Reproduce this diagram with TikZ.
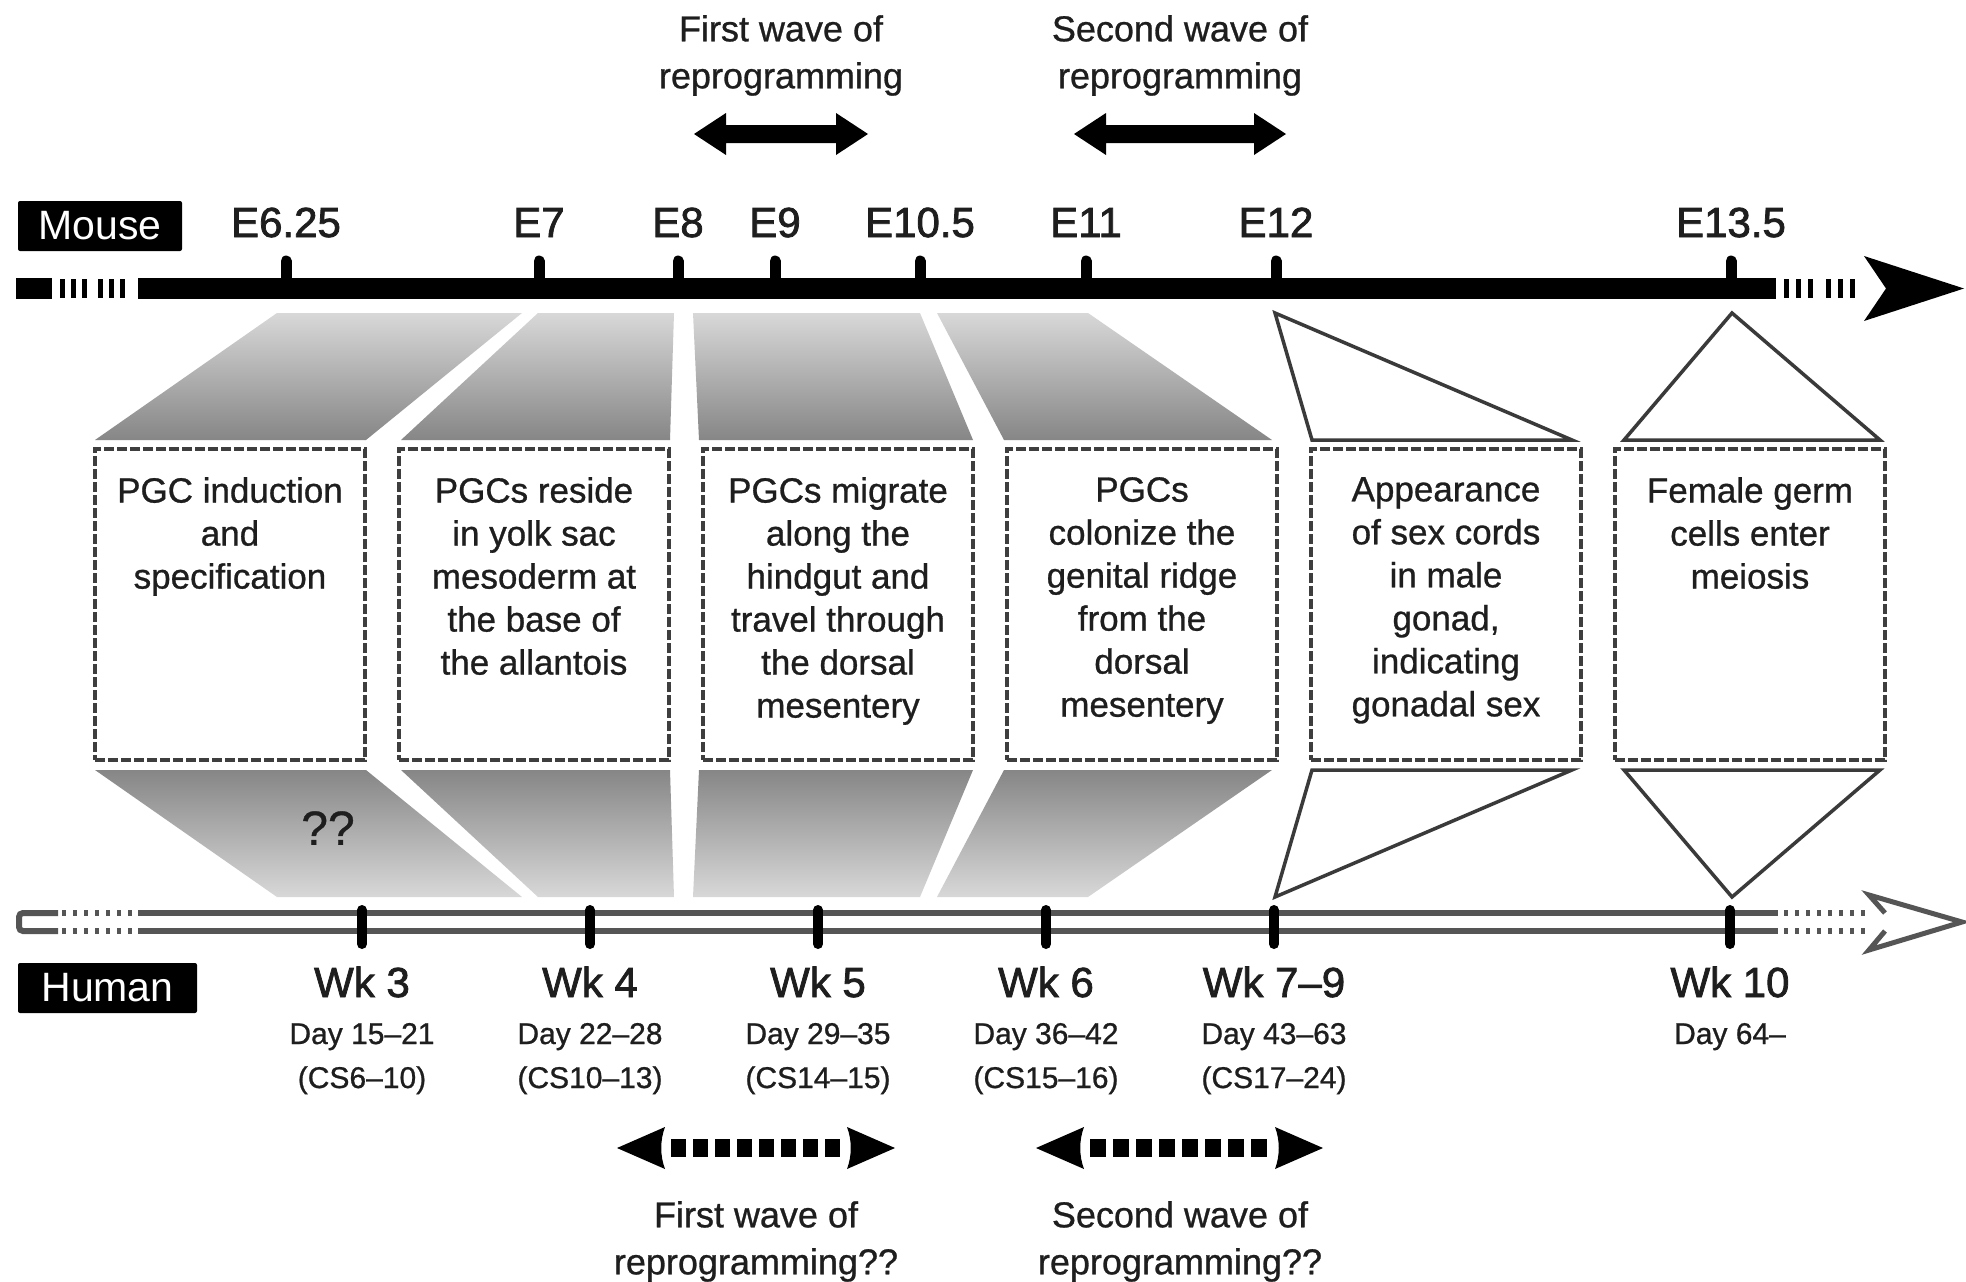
\documentclass[tikz,border=0pt]{standalone}
\usepackage{fontspec}
\setmainfont{Liberation Sans}
\newfontfamily\medfont{Liberation Sans}[FakeBold=0.8]
\newfontfamily\heavyfont{Liberation Sans}[FakeBold=1.8]
\definecolor{txt}{HTML}{1E1E1E}
\definecolor{axisgray}{HTML}{555555}
\definecolor{boxline}{HTML}{3E3E3E}
\definecolor{shlight}{HTML}{D8D8D8}
\definecolor{shdark}{HTML}{868686}
\definecolor{triline}{HTML}{3A3A3A}
\begin{document}
\begin{tikzpicture}[x=1pt,y=-1pt,
  elbl/.style={font=\heavyfont\fontsize{42}{50}\selectfont, text=txt, inner sep=0, anchor=base},
  wklbl/.style={font=\heavyfont\fontsize{42}{50}\selectfont, text=txt, inner sep=0, anchor=base},
  daylbl/.style={font=\medfont\fontsize{30}{36}\selectfont, text=txt, inner sep=0, anchor=base},
  wavelbl/.style={font=\medfont\fontsize{36}{47}\selectfont, text=txt, inner sep=0, align=center, anchor=north},
  boxtext/.style={font=\medfont\fontsize{35}{43}\selectfont, text=txt, inner sep=0, align=center, anchor=north},
  specbox/.style={fill=black, text=white, font=\fontsize{41}{48}\selectfont, inner sep=0, rounded corners=2pt},
  phasebox/.style={draw=boxline, line width=3.5pt, dash pattern=on 10pt off 3pt, fill=white, inner sep=0, minimum width=270pt, minimum height=311pt},
  tri/.style={draw=triline, line width=3.5pt, line join=miter, fill=white},
  topshade/.style={top color=shlight, bottom color=shdark},
  botshade/.style={top color=shdark, bottom color=shlight},
]
\useasboundingbox (0,0) rectangle (1966,1282);
\fill[white] (0,0) rectangle (1966,1282);

% ---- gray trapezoids (top) ----
\shade[topshade] (277,313) -- (522,313) -- (366,440) -- (95,440) -- cycle;
\shade[topshade] (538,313) -- (674,313) -- (670,440) -- (401,440) -- cycle;
\shade[topshade] (693,313) -- (920,313) -- (973,440) -- (699,440) -- cycle;
\shade[topshade] (937,313) -- (1088,313) -- (1272,440) -- (1004,440) -- cycle;
% ---- gray trapezoids (bottom) ----
\shade[botshade] (95,770) -- (366,770) -- (522,897) -- (277,897) -- cycle;
\shade[botshade] (401,770) -- (670,770) -- (674,897) -- (538,897) -- cycle;
\shade[botshade] (699,770) -- (973,770) -- (920,897) -- (693,897) -- cycle;
\shade[botshade] (1004,770) -- (1272,770) -- (1088,897) -- (937,897) -- cycle;

% ---- outline triangles ----
\draw[tri] (1275,313) -- (1312,440) -- (1572,440) -- cycle;
\draw[tri] (1732,313) -- (1624,440) -- (1880,440) -- cycle;
\draw[tri] (1312,770) -- (1572,770) -- (1275,897) -- cycle;
\draw[tri] (1624,770) -- (1880,770) -- (1732,897) -- cycle;

% ---- phase boxes ----
\node[phasebox] (b1) at (230,604.5) {};
\node[phasebox] (b2) at (534,604.5) {};
\node[phasebox] (b3) at (838,604.5) {};
\node[phasebox] (b4) at (1142,604.5) {};
\node[phasebox] (b5) at (1446,604.5) {};
\node[phasebox] (b6) at (1750,604.5) {};

\node[boxtext] (t1) at (230,477) {PGC induction\\and\\specification};
\node[boxtext] (t2) at (534,477) {PGCs reside\\in yolk sac\\mesoderm at\\the base of\\the allantois};
\node[boxtext] (t3) at (838,477) {PGCs migrate\\along the\\hindgut and\\travel through\\the dorsal\\mesentery};
\node[boxtext] (t4) at (1142,477) {PGCs\\colonize the\\genital ridge\\from the\\dorsal\\mesentery};
\node[boxtext] (t5) at (1446,477) {Appearance\\of sex cords\\in male\\gonad,\\indicating\\gonadal sex};
\node[boxtext] (t6) at (1750,477) {Female germ\\cells enter\\meiosis};

\node[font=\medfont\fontsize{48}{56}\selectfont, text=txt, inner sep=0] (qq) at (328,828) {??};

% ---- mouse axis ----
\fill[black] (16,278) rectangle (52,299);
\foreach \x in {60,71,82,98,109,120} \fill[black] (\x,279) rectangle ++(4.5,19);
\fill[black] (138,278) rectangle (1776,299);
\foreach \x in {1784,1796,1808,1826,1838,1850} \fill[black] (\x,279) rectangle ++(4.5,19);
\fill[black] (1864,256) -- (1964,288.5) -- (1864,321) -- (1886,288.5) -- cycle;
\foreach \x in {286,539,678,775,920,1086,1276,1731}
  \draw[black, line width=11pt, line cap=round] (\x,261) -- (\x,285);

\node[specbox, minimum width=164pt, minimum height=50pt] (mouse) at (100,226) {Mouse};
\foreach \x/\t/\n in {286/E6.25/m1, 539/E7/m2, 678/E8/m3, 775/E9/m4, 920/E10.5/m5, 1086/E11/m6, 1276/E12/m7, 1731/E13.5/m8}
  \node[elbl] (\n) at (\x,237) {\t};

% ---- human axis ----
\draw[axisgray, line width=6pt] (138,913) -- (1778,913);
\draw[axisgray, line width=6pt] (138,931) -- (1778,931);
\draw[axisgray, line width=6pt, rounded corners=4pt] (58,913) -- (19,913) -- (19,931) -- (58,931);
\draw[axisgray, line width=6pt, dash pattern=on 4pt off 7pt] (62,913) -- (134,913);
\draw[axisgray, line width=6pt, dash pattern=on 4pt off 7pt] (62,931) -- (134,931);
\draw[axisgray, line width=6pt, dash pattern=on 4pt off 7pt] (1784,913) -- (1866,913);
\draw[axisgray, line width=6pt, dash pattern=on 4pt off 7pt] (1784,931) -- (1866,931);
\draw[axisgray, line width=5pt, line join=miter] (1885,913) -- (1869,895) -- (1962,922) -- (1869,950) -- (1885,931);
\foreach \x in {362,590,818,1046,1274,1730}
  \draw[black, line width=10pt, line cap=round] (\x,910) -- (\x,944);

\node[specbox, minimum width=179pt, minimum height=50pt] (human) at (107.5,988) {Human};
\foreach \x/\w/\d/\c/\n in {362/{Wk 3}/{Day 15–21}/{(CS6–10)}/h1,
                            590/{Wk 4}/{Day 22–28}/{(CS10–13)}/h2,
                            818/{Wk 5}/{Day 29–35}/{(CS14–15)}/h3,
                            1046/{Wk 6}/{Day 36–42}/{(CS15–16)}/h4,
                            1274/{Wk 7–9}/{Day 43–63}/{(CS17–24)}/h5}{
  \node[wklbl] (w\n) at (\x,997) {\w};
  \node[daylbl] (d\n) at (\x,1044) {\d};
  \node[daylbl] (c\n) at (\x,1088) {\c};
}
\node[wklbl] (wh6) at (1730,997) {Wk 10};
\node[daylbl] (dh6) at (1730,1044) {Day 64–};

% ---- top reprogramming arrows ----
\node[wavelbl] (top1) at (781,15) {First wave of\\reprogramming};
\node[wavelbl] (top2) at (1180,15) {Second wave of\\reprogramming};
\fill[black] (694,134) -- (726,113) -- (726,125) -- (836,125) -- (836,113) -- (868,134) -- (836,155) -- (836,143) -- (726,143) -- (726,155) -- cycle;
\fill[black] (1074,134) -- (1106,113) -- (1106,125) -- (1254,125) -- (1254,113) -- (1286,134) -- (1254,155) -- (1254,143) -- (1106,143) -- (1106,155) -- cycle;

% ---- bottom reprogramming arrows ----
\fill[black] (617,1148) -- (665,1127) .. controls (660,1140) and (660,1156) .. (665,1169) -- cycle;
\fill[black] (895,1148) -- (847,1127) .. controls (852,1140) and (852,1156) .. (847,1169) -- cycle;
\draw[black, line width=18pt, dash pattern=on 15pt off 7pt] (671,1148) -- (843,1148);
\fill[black] (1036,1148) -- (1084,1127) .. controls (1079,1140) and (1079,1156) .. (1084,1169) -- cycle;
\fill[black] (1323,1148) -- (1275,1127) .. controls (1280,1140) and (1280,1156) .. (1275,1169) -- cycle;
\draw[black, line width=18pt, dash pattern=on 16pt off 7pt] (1090,1148) -- (1270,1148);
\node[wavelbl] (bot1) at (756,1201) {First wave of\\reprogramming??};
\node[wavelbl] (bot2) at (1180,1201) {Second wave of\\reprogramming??};
\end{tikzpicture}
\end{document}
